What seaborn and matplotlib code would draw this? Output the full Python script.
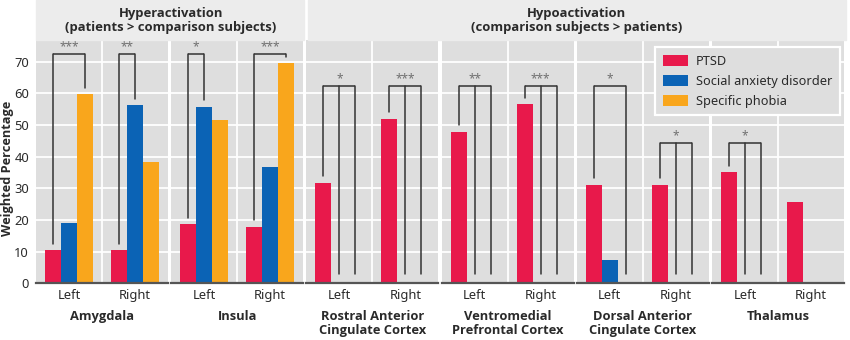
import matplotlib
matplotlib.use("Agg")
import matplotlib.pyplot as plt
from matplotlib.patches import Rectangle, Patch
import pandas as pd
import seaborn as sns

# ---------------- data ----------------
regions = ["Amygdala", "Insula", "Rostral Anterior\nCingulate Cortex",
           "Ventromedial\nPrefrontal Cortex", "Dorsal Anterior\nCingulate Cortex", "Thalamus"]
sides = ["Left", "Right"]
groups = ["PTSD", "Social anxiety disorder", "Specific phobia"]

# [Left, Right] per region
ptsd = [[10.5, 10.5], [18.7, 17.9], [31.8, 52.0], [47.9, 56.6], [31.1, 31.1], [35.1, 25.6]]
social_anxiety = [[19.0, 56.2], [55.8, 36.6], [0, 0], [0, 0], [7.4, 0], [0, 0]]
specific_phobia = [[59.7, 38.4], [51.6, 69.5], [0, 0], [0, 0], [0, 0], [0, 0]]

# significance brackets: (region, side, bars joined, bracket height, label)
brackets = [
    (0, 0, [0, 2], 72.5, "***"),
    (0, 1, [0, 1], 72.5, "**"),
    (1, 0, [0, 1], 72.5, "*"),
    (1, 1, [0, 2], 72.5, "***"),
    (2, 0, [0, 1, 2], 62.3, "*"),
    (2, 1, [0, 1, 2], 62.3, "***"),
    (3, 0, [0, 1, 2], 62.3, "**"),
    (3, 1, [0, 1, 2], 62.3, "***"),
    (4, 0, [0, 2], 62.3, "*"),
    (4, 1, [0, 1, 2], 44.4, "*"),
    (5, 0, [0, 1, 2], 44.4, "*"),
]

headers = ["Hyperactivation\n(patients > comparison subjects)",
           "Hypoactivation\n(comparison subjects > patients)"]
yticks = [0, 10, 20, 30, 40, 50, 60, 70]

rows = []
for r, reg in enumerate(regions):
    for s, side in enumerate(sides):
        for g, vals in zip(groups, [ptsd, social_anxiety, specific_phobia]):
            rows.append({"region": reg, "side": side, "group": g, "value": vals[r][s]})
df = pd.DataFrame(rows)

# ---------------- style ----------------
sns.set_style("white")
plt.rcParams["font.family"] = ["Noto Sans", "DejaVu Sans"]
BOLD_FAMILY = ["Open Sans", "DejaVu Sans"]
TXT = "#2a2a2a"
PLOT_BG = "#dedede"
HEAD_BG = "#ececec"
colors = {"PTSD": "#e8194b", "Social anxiety disorder": "#0b63b5", "Specific phobia": "#f9a61c"}

W, H = 850, 340
fig = plt.figure(figsize=(8.5, 3.4), dpi=100)

def fx(px):
    return px / W

def fy(py):
    return 1 - py / H

# headers
fig.patches.append(Rectangle((fx(36), fy(39.5)), fx(304 - 36), 39.5 / H,
                             transform=fig.transFigure, color=HEAD_BG, zorder=0))
fig.patches.append(Rectangle((fx(307.5), fy(39.5)), fx(846 - 307.5), 39.5 / H,
                             transform=fig.transFigure, color=HEAD_BG, zorder=0))
fig.text(fx(171), fy(20), headers[0], ha="center", va="center", fontsize=9.4,
         fontweight="bold", family=BOLD_FAMILY, color=TXT, linespacing=1.1)
fig.text(fx(577), fy(20), headers[1], ha="center", va="center", fontsize=9.4,
         fontweight="bold", family=BOLD_FAMILY, color=TXT, linespacing=1.1)

top_px, bot_px = 39.5, 283.3
pitch, width = 135.2, 132
axes = []
for r, reg in enumerate(regions):
    left = 36 + r * pitch
    ax = fig.add_axes([fx(left), fy(bot_px), fx(width), (bot_px - top_px) / H])
    ax.set_facecolor(PLOT_BG)
    sub = df[df["region"] == reg]
    sns.barplot(data=sub, x="side", y="value", hue="group", order=sides, hue_order=groups,
                palette=colors, saturation=1, width=0.73, errorbar=None, legend=False,
                linewidth=0, ax=ax)
    ax.set_xlim(-0.5, 1.5)
    ax.set_ylim(0, 77)
    ax.set_yticks(yticks)
    ax.grid(axis="y", color="white", lw=1.3)
    ax.axvline(0.5, color="white", lw=1.3, zorder=0.5)
    ax.set_axisbelow(True)
    for sp in ["top", "right", "left"]:
        ax.spines[sp].set_visible(False)
    ax.spines["bottom"].set_color("#555555")
    ax.spines["bottom"].set_linewidth(1.6)
    ax.tick_params(axis="x", length=0, labelsize=9.3, colors=TXT, pad=4)
    ax.tick_params(axis="y", length=0, labelsize=9.3, colors=TXT, pad=5)
    if r > 0:
        ax.tick_params(labelleft=False)
    ax.set_ylabel("")
    ax.set_xlabel(reg, fontweight="bold", family=BOLD_FAMILY, fontsize=9.3, color=TXT,
                  labelpad=6, linespacing=1.1)
    axes.append(ax)

# brackets
for r, s, idx, top, lab in brackets:
    ax = axes[r]
    xs, ends = [], []
    for g in idx:
        bar = ax.containers[g][s]
        xs.append(bar.get_x() + bar.get_width() / 2)
        ends.append(max(bar.get_height() + 2, 3))
    ax.plot([xs[0], xs[-1]], [top, top], color="#333333", lw=1.1, solid_capstyle="butt", zorder=5)
    for x, e in zip(xs, ends):
        ax.plot([x, x], [e, top], color="#333333", lw=1.1, zorder=5)
    ax.text((xs[0] + xs[-1]) / 2, top + 0.3, lab, ha="center", va="bottom",
            fontsize=8.5, color="#707070", zorder=6)

fig.text(fx(7.5), fy(168), "Weighted Percentage", rotation=90, ha="center", va="center",
         fontsize=9.2, fontweight="bold", family=BOLD_FAMILY, color=TXT)

handles = [Patch(facecolor=colors[g], edgecolor="none") for g in groups]
leg = fig.legend(handles, groups, loc="upper left", bbox_to_anchor=(fx(655), fy(47)),
                 frameon=True, fancybox=False, framealpha=1, facecolor=PLOT_BG,
                 edgecolor="white", fontsize=9.2, handlelength=2.0, handleheight=0.95,
                 handletextpad=0.6, labelspacing=0.55, borderpad=0.6, borderaxespad=0)
leg.get_frame().set_linewidth(1.6)
for t in leg.get_texts():
    t.set_color(TXT)

fig.savefig("out.png", dpi=100)
